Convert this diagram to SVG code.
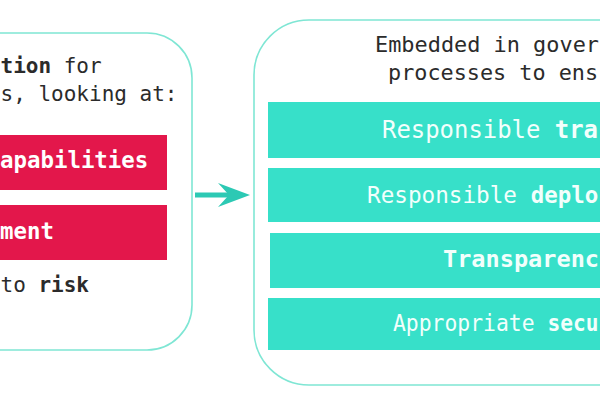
<svg xmlns="http://www.w3.org/2000/svg" width="600" height="400" viewBox="0 0 600 400">
<style>
.frame{fill:#ffffff;stroke:#7FE6D4;stroke-width:1.6}
.pink{fill:#E3174B}
.teal{fill:#37E0C9}
.t{font-family:"DejaVu Sans Mono","Liberation Mono",monospace}
.dark{fill:#2B2B2B}
.w{fill:#ffffff;font-weight:bold}
.lt{fill:#F2FFFC}
.b{font-weight:bold}
</style>
<rect width="600" height="400" fill="#ffffff"/>
<g id="left-box">
<rect class="frame" x="-60" y="33" width="252" height="317" rx="45"/>
<text class="t dark b" x="0.5" y="73" font-size="21">tion</text>
<text class="t dark" x="63.7" y="73" font-size="21">for</text>
<text class="t dark" x="0.5" y="101" font-size="21">s, looking at:</text>
</g>
<g id="capabilities">
<rect class="pink" x="-10" y="135" width="177" height="55"/>
<text class="t w" x="0" y="168" font-size="22.4">apabilities</text>
</g>
<g id="ment">
<rect class="pink" x="-10" y="205" width="177" height="55"/>
<text class="t w" x="0" y="239" font-size="22.4">ment</text>
</g>
<g id="risk">
<text class="t dark" x="0.5" y="292" font-size="21">to</text>
<text class="t dark b" x="38.4" y="292" font-size="21">risk</text>
</g>
<g id="connectors">
<line x1="195" y1="195" x2="230" y2="195" stroke="#2CC9B4" stroke-width="5"/>
<path d="M250,195 L218,183 L229,195 L218,207 Z" fill="#2CC9B4"/>
</g>
<g id="right-box">
<rect class="frame" x="254" y="20" width="420" height="365" rx="55"/>
<text class="t dark" x="375" y="52" font-size="22" textLength="224" lengthAdjust="spacingAndGlyphs">Embedded in gover</text>
<text class="t dark" x="388" y="80" font-size="22" textLength="210" lengthAdjust="spacingAndGlyphs">processes to ens</text>
</g>
<g id="training">
<rect class="teal" x="268" y="102" width="340" height="56"/>
<text class="t lt" x="382" y="138" font-size="23.9" textLength="158.4" lengthAdjust="spacingAndGlyphs">Responsible</text>
<text class="t lt b" x="554.8" y="138" font-size="23.9" textLength="43.2" lengthAdjust="spacingAndGlyphs">tra</text>
</g>
<g id="deployment">
<rect class="teal" x="268" y="168" width="340" height="54"/>
<text class="t lt" x="367" y="203" font-size="23.5" textLength="150" lengthAdjust="spacingAndGlyphs">Responsible</text>
<text class="t lt b" x="530.8" y="203" font-size="23.5" textLength="67.5" lengthAdjust="spacingAndGlyphs">deplo</text>
</g>
<g id="transparency">
<rect class="teal" x="270" y="233" width="340" height="55"/>
<text class="t lt b" x="443" y="267" font-size="23.7" textLength="156" lengthAdjust="spacingAndGlyphs">Transparenc</text>
</g>
<g id="security">
<rect class="teal" x="268" y="298" width="340" height="52"/>
<text class="t lt" x="393" y="331" font-size="22.4" textLength="141.6" lengthAdjust="spacingAndGlyphs">Appropriate</text>
<text class="t lt b" x="547.5" y="331" font-size="22.4" textLength="51" lengthAdjust="spacingAndGlyphs">secu</text>
</g>
</svg>
